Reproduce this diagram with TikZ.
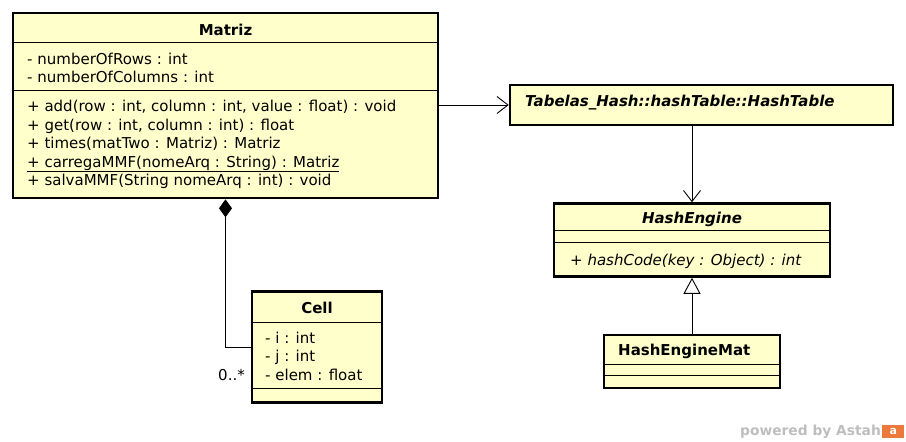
\documentclass[tikz,border=0pt]{standalone}
\usepackage{fontspec}
\setmainfont{DejaVu Sans}
\usepackage{xcolor}
\usetikzlibrary{arrows.meta,positioning,calc}
\definecolor{umlfill}{RGB}{255,255,204}
\definecolor{astahgray}{RGB}{190,190,190}
\definecolor{astahorange}{RGB}{236,120,60}

\begin{document}
\begin{tikzpicture}[x=1pt,y=-1pt,font=\fontsize{15}{18}\selectfont,
  classbox/.style={draw,line width=2.6pt,fill=umlfill,inner sep=0pt},
  member/.style={anchor=base west,inner sep=0pt},
  cname/.style={anchor=base,inner sep=0pt,font=\fontsize{15}{18}\selectfont\bfseries},
  sep/.style={line width=1pt},
  link/.style={line width=0.9pt},
  >={Straight Barb[length=11pt,width=17pt,line width=0.9pt]}]
\useasboundingbox (0,0) rectangle (906,442);

\node[classbox,minimum width=425pt,minimum height=185pt] (matriz) at (225.5,105.5) {};
\node[cname] (matrizT) at (225.5,35) {Matriz};
\draw[sep] (matriz.west |- 0,42.5) -- (matriz.east |- 0,42.5);
\node[member] (a1) at (27,64) {- numberOfRows : int};
\node[member] (a2) at (27,82.5) {- numberOfColumns : int};
\draw[sep] (matriz.west |- 0,90) -- (matriz.east |- 0,90);
\node[member] (m1) at (27,111.5) {+ add(row : int, column : int, value : float) : void};
\node[member] (m2) at (27,130) {+ get(row : int, column : int) : float};
\node[member] (m3) at (27,148.5) {+ times(matTwo : Matriz) : Matriz};
\node[member] (m4) at (27,167) {\underline{+ carregaMMF(nomeArq : String) : Matriz}};
\node[member] (m5) at (27,185.5) {+ salvaMMF(String nomeArq : int) : void};

\node[classbox,minimum width=383pt,minimum height=40pt] (hashtable) at (701.5,105) {};
\node[member,font=\fontsize{15}{18}\selectfont\bfseries\itshape] (htT) at (525,106.5) {Tabelas\_Hash::hashTable::HashTable};

\node[classbox,minimum width=276pt,minimum height=73pt] (engine) at (692,240) {};
\node[cname,font=\fontsize{15}{18}\selectfont\bfseries\itshape] (engineT) at (692,223) {HashEngine};
\draw[sep] (engine.west |- 0,230) -- (engine.east |- 0,230);
\draw[sep] (engine.west |- 0,242) -- (engine.east |- 0,242);
\node[member,font=\fontsize{15}{18}\selectfont\itshape] (e1) at (570,265) {+ hashCode(key : Object) : int};

\node[classbox,minimum width=176pt,minimum height=53pt] (enginemat) at (692,361.5) {};
\node[member,font=\fontsize{15}{18}\selectfont\bfseries] (enginematT) at (618,355) {HashEngineMat};
\draw[sep] (enginemat.west |- 0,364) -- (enginemat.east |- 0,364);
\draw[sep] (enginemat.west |- 0,375.5) -- (enginemat.east |- 0,375.5);

\node[classbox,minimum width=130pt,minimum height=111pt] (cell) at (317,347) {};
\node[cname] (cellT) at (317,313) {Cell};
\draw[sep] (cell.west |- 0,322) -- (cell.east |- 0,322);
\node[member] (c1) at (265,343) {- i : int};
\node[member] (c2) at (265,361.5) {- j : int};
\node[member] (c3) at (265,380) {- elem : float};
\draw[sep] (cell.west |- 0,388) -- (cell.east |- 0,388);

\draw[link,->] (matriz.east |- hashtable.west) -- (hashtable.west);
\draw[link,->] (hashtable.south -| engine.north) -- (engine.north);
\draw[link,-{Triangle[open,length=16pt,width=17pt,line width=0.9pt,fill=white]}] (enginemat.north) -- (engine.south);
\draw[link,{Diamond[length=18pt,width=13pt]}-] (matriz.south) |- (cell.west);
\node[anchor=base east,inner sep=0pt] (mult) at (245,380) {0..*};

\node[anchor=base west,inner sep=0pt,text=astahgray,font=\fontsize{13.8}{16}\selectfont\bfseries] (powered) at (740,435) {powered by Astah};
\node[fill=astahorange,minimum width=22pt,minimum height=13pt,inner sep=0pt,right=1pt of powered.east,text=white,font=\fontsize{11}{12}\selectfont\bfseries] (logo) {a};
\end{tikzpicture}
\end{document}
